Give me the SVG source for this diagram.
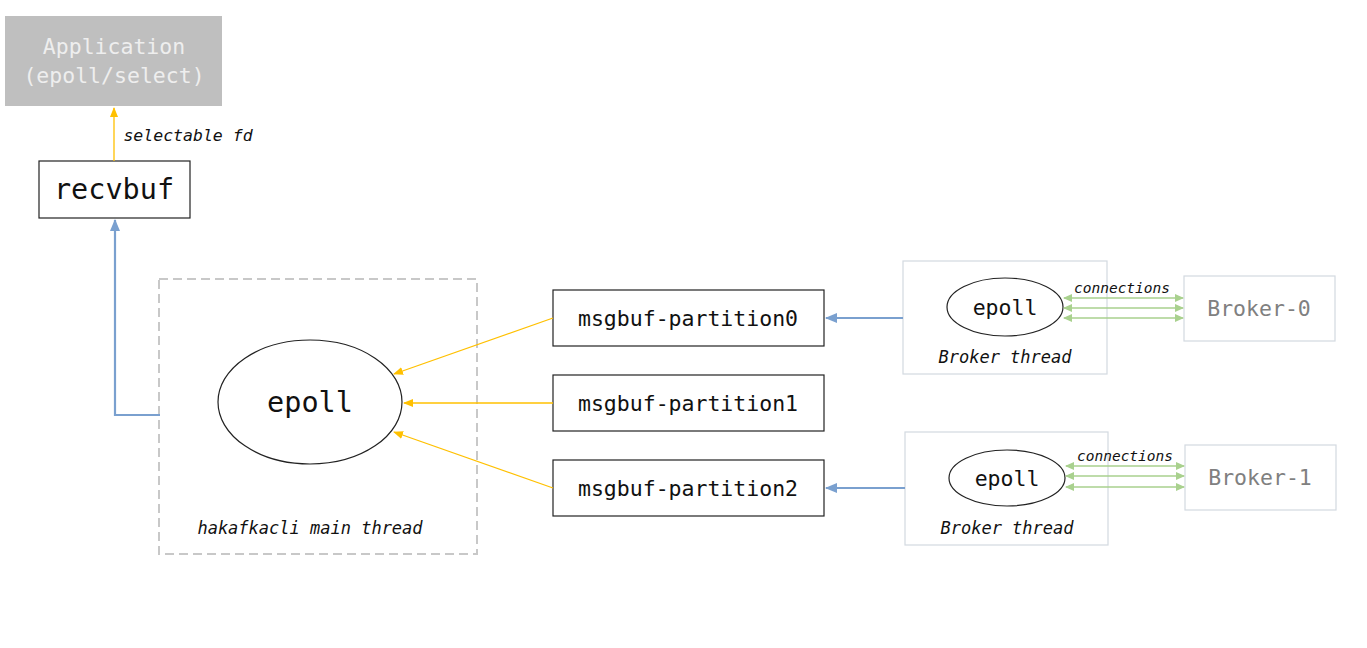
<svg xmlns="http://www.w3.org/2000/svg" width="1367" height="648" viewBox="0 0 1367 648">
<style>
text{font-family:"DejaVu Sans Mono","Liberation Mono",monospace;text-anchor:middle;dominant-baseline:central}
.box{fill:#fff;stroke:#222;stroke-width:1.2}
.lbox{fill:#fff;stroke:#d3d9e0;stroke-width:1.2}
.it{font-style:italic;font-size:17px;fill:#111}
.yl{stroke:#ffc000;stroke-width:1.3;fill:none}
.bl{stroke:#7aa0cf;stroke-width:2.2;fill:none}
.gl{stroke:#a9d18e;stroke-width:1.5;fill:none}
</style>
<defs>
<marker id="ay" markerWidth="10" markerHeight="8" refX="9" refY="4" orient="auto" markerUnits="userSpaceOnUse"><path d="M0,0 L10,4 L0,8 z" fill="#ffc000"/></marker>
<marker id="ab" markerWidth="12" markerHeight="10" refX="11" refY="5" orient="auto" markerUnits="userSpaceOnUse"><path d="M0,0 L12,5 L0,10 z" fill="#7aa0cf"/></marker>
<marker id="ag" markerWidth="9" markerHeight="8" refX="8" refY="4" orient="auto-start-reverse" markerUnits="userSpaceOnUse"><path d="M0,0 L9,4 L0,8 z" fill="#a9d18e"/></marker>
</defs>
<rect width="1367" height="648" fill="#fff"/>
<g id="application">
<rect x="5" y="16" width="217" height="90" fill="#bfbfbf"/>
<text x="114" y="46" font-size="21.5" fill="#eeeeee">Application</text>
<text x="114" y="75" font-size="21.5" fill="#eeeeee">(epoll/select)</text>
</g>
<g id="recvbuf">
<rect class="box" x="39" y="161" width="151" height="57"/>
<text x="114" y="189" font-size="28.5" fill="#111">recvbuf</text>
</g>
<g id="main-thread">
<rect x="159" y="279" width="318" height="275" fill="none" stroke="#c8c8c8" stroke-width="2" stroke-dasharray="9,5"/>
<ellipse cx="310" cy="402" rx="92" ry="62" fill="#fff" stroke="#222" stroke-width="1.2"/>
<text x="310" y="402" font-size="28.5" fill="#111">epoll</text>
<text x="310" y="528" class="it">hakafkacli main thread</text>
</g>
<g id="msgbuf-partition0">
<rect class="box" x="553" y="290" width="271" height="56"/>
<text x="688" y="318" font-size="21.5" fill="#111">msgbuf-partition0</text>
</g>
<g id="msgbuf-partition1">
<rect class="box" x="553" y="375" width="271" height="56"/>
<text x="688" y="403" font-size="21.5" fill="#111">msgbuf-partition1</text>
</g>
<g id="msgbuf-partition2">
<rect class="box" x="553" y="460" width="271" height="56"/>
<text x="688" y="488" font-size="21.5" fill="#111">msgbuf-partition2</text>
</g>
<g id="broker-thread-0">
<rect class="lbox" x="903" y="261" width="204" height="113"/>
<ellipse cx="1005" cy="307" rx="58" ry="29" fill="#fff" stroke="#222" stroke-width="1.2"/>
<text x="1005" y="307" font-size="21.5" fill="#111">epoll</text>
<text x="1005" y="357" class="it">Broker thread</text>
</g>
<g id="broker-0">
<rect class="lbox" x="1184" y="276" width="151" height="65"/>
<text x="1259" y="308" font-size="21.5" fill="#808080">Broker-0</text>
</g>
<g id="broker-thread-1">
<rect class="lbox" x="905" y="432" width="203" height="113"/>
<ellipse cx="1007" cy="478" rx="58" ry="28" fill="#fff" stroke="#222" stroke-width="1.2"/>
<text x="1007" y="478" font-size="21.5" fill="#111">epoll</text>
<text x="1007" y="528" class="it">Broker thread</text>
</g>
<g id="broker-1">
<rect class="lbox" x="1185" y="445" width="151" height="65"/>
<text x="1260" y="477" font-size="21.5" fill="#808080">Broker-1</text>
</g>
<g id="connectors">
<line class="yl" x1="114" y1="161" x2="114" y2="108" marker-end="url(#ay)"/>
<text x="188" y="135" class="it" style="font-size:16.5px">selectable fd</text>
<polyline class="bl" points="160,415 115,415 115,220" marker-end="url(#ab)"/>
<line class="yl" x1="553" y1="318" x2="394" y2="374" marker-end="url(#ay)"/>
<line class="yl" x1="553" y1="403" x2="404" y2="403" marker-end="url(#ay)"/>
<line class="yl" x1="553" y1="488" x2="394" y2="432" marker-end="url(#ay)"/>
<line class="bl" x1="903" y1="318" x2="826" y2="318" marker-end="url(#ab)"/>
<line class="bl" x1="905" y1="488" x2="826" y2="488" marker-end="url(#ab)"/>
<line class="gl" x1="1064" y1="298" x2="1183" y2="298" marker-start="url(#ag)" marker-end="url(#ag)"/>
<line class="gl" x1="1064" y1="308" x2="1183" y2="308" marker-start="url(#ag)" marker-end="url(#ag)"/>
<line class="gl" x1="1064" y1="318" x2="1183" y2="318" marker-start="url(#ag)" marker-end="url(#ag)"/>
<text x="1122" y="288" class="it" style="font-size:14.5px">connections</text>
<line class="gl" x1="1066" y1="466" x2="1184" y2="466" marker-start="url(#ag)" marker-end="url(#ag)"/>
<line class="gl" x1="1066" y1="476" x2="1184" y2="476" marker-start="url(#ag)" marker-end="url(#ag)"/>
<line class="gl" x1="1066" y1="487" x2="1184" y2="487" marker-start="url(#ag)" marker-end="url(#ag)"/>
<text x="1125" y="456" class="it" style="font-size:14.5px">connections</text>
</g>
</svg>
